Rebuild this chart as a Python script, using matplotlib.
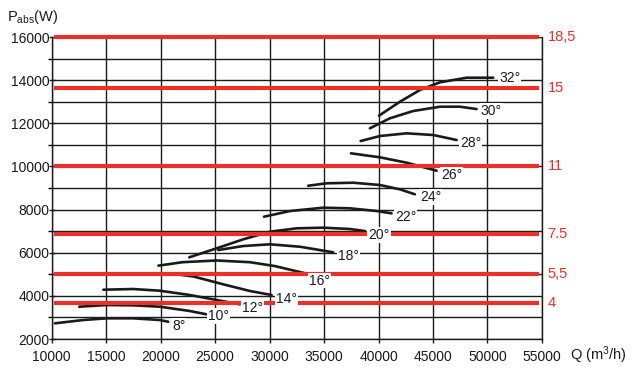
import matplotlib
matplotlib.use("Agg")
import matplotlib.pyplot as plt
from matplotlib.ticker import MultipleLocator

plt.rcParams["font.family"] = ["Liberation Sans", "DejaVu Sans"]
plt.rcParams["mathtext.fontset"] = "custom"
plt.rcParams["mathtext.rm"] = "Liberation Sans"
plt.rcParams["mathtext.it"] = "Liberation Sans:italic"

# blade angle curves, Q (m3/h) vs absorbed power (W)
angles = ["8°", "10°", "12°", "14°", "16°", "18°", "20°", "22°", "24°", "26°", "28°", "30°", "32°"]
curve_q = [
    [10300, 12900, 15050, 17490, 19940, 20700],
    [12530, 15050, 17500, 19940, 22690, 24220],
    [14740, 17490, 19940, 22690, 25140, 27280],
    [21000, 23000, 25750, 28200, 30190],
    [19800, 22000, 25140, 28200, 30500, 32400, 33400],
    [25290, 27580, 30030, 32780, 35840],
    [22630, 25140, 27580, 30030, 32480, 34920, 37370, 38750],
    [29490, 31880, 34920, 37370, 39820, 41200],
    [33550, 35240, 37680, 40130, 41960, 43340],
    [37470, 40130, 42580, 45330],
    [38360, 40130, 42580, 45020, 47170],
    [39210, 41040, 43180, 45640, 47470, 49000],
    [40040, 41970, 43800, 45640, 48090, 50530],
]
curve_p = [
    [2727, 2880, 2958, 2958, 2880, 2800],
    [3497, 3575, 3560, 3497, 3297, 3144],
    [4285, 4317, 4238, 4039, 3807, 3608],
    [5030, 4900, 4535, 4225, 4039],
    [5400, 5560, 5640, 5560, 5380, 5150, 5030],
    [6125, 6310, 6390, 6278, 6019],
    [5787, 6204, 6621, 6974, 7131, 7160, 7099, 7006],
    [7670, 7933, 8087, 8059, 7933, 7826],
    [9106, 9218, 9245, 9139, 8939, 8708],
    [10608, 10423, 10173, 9802],
    [11179, 11410, 11535, 11457, 11225],
    [11767, 12231, 12569, 12769, 12769, 12662],
    [12352, 13001, 13543, 13900, 14113, 14113],
]
label_q = [21040, 24370, 27440, 30590, 33640, 36300, 39060, 41510, 43800, 45730, 47470, 49370, 51050]
label_p = [2602, 3052, 3460, 3863, 4711, 5856, 6821, 7664, 8597, 9602, 11095, 12578, 14099]

# motor ratings (kW) and their power limits (W)
motor_kw = ["18,5", "15", "11", "7.5", "5,5", "4"]
motor_p = [16000, 13650, 10000, 6850, 5000, 3650]

red = "#e8312a"
ink = "#1a1a1a"

fig = plt.figure(figsize=(6.34, 3.69), dpi=100)
ax = fig.add_axes([0.0815, 0.0813, 0.7733, 0.8184])
ax.set_xlim(10000, 55000)
ax.set_ylim(2000, 16000)

ax.xaxis.set_major_locator(MultipleLocator(5000))
ax.yaxis.set_major_locator(MultipleLocator(2000))
ax.yaxis.set_minor_locator(MultipleLocator(1000))
ax.grid(True, which="major", axis="x", color=ink, linewidth=1.0)
ax.grid(True, which="both", axis="y", color=ink, linewidth=1.0)
ax.set_axisbelow(True)
for side in ("left", "bottom", "right"):
    ax.spines[side].set_color(ink)
    ax.spines[side].set_linewidth(1.0)
ax.spines["top"].set_visible(False)

ax.tick_params(axis="y", which="major", direction="inout", length=5, width=1, pad=-1,
               labelsize=10, colors=ink)
ax.tick_params(axis="y", which="minor", direction="out", length=3, width=1)
ax.tick_params(axis="x", which="major", direction="out", length=3, width=1, pad=5,
               labelsize=10, colors=ink)

for q, p in zip(curve_q, curve_p):
    ax.plot(q, p, color=ink, linewidth=1.9, solid_capstyle="round",
            solid_joinstyle="round", zorder=3)

for kw, p in zip(motor_kw, motor_p):
    ax.plot([10200, 54700], [p, p], color=red, linewidth=3.0, solid_capstyle="butt",
            clip_on=False, zorder=4)
    ax.text(55500, p, kw, color=red, fontsize=10.5, ha="left", va="center")

for name, q, p in zip(angles, label_q, label_p):
    ax.text(q, p, name, fontsize=10, color=ink, ha="left", va="center", zorder=5,
            bbox=dict(facecolor="white", edgecolor="none", pad=0.7))

fig.text(0.011, 0.943, r"P$_{\mathrm{abs}}$(W)", fontsize=10.5, color=ink, va="baseline")
fig.text(0.899, 0.038, r"Q (m$^{3}$/h)", fontsize=10.5, color=ink, va="center")

fig.savefig("out.png", dpi=100)
